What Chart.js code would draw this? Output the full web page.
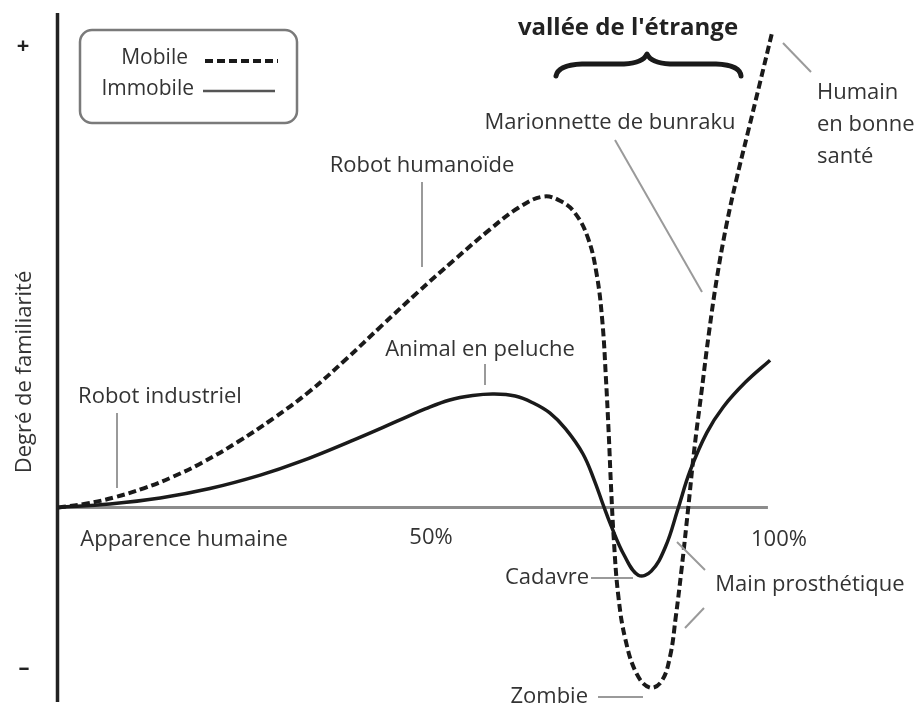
<!DOCTYPE html>
<html>
<head>
<meta charset="utf-8">
<script src="https://cdn.jsdelivr.net/npm/chart.js@4.4.1/dist/chart.umd.min.js"></script>
<style>
  html, body { margin: 0; padding: 0; background: #fff; }
</style>
</head>
<body>
<canvas id="chart" width="914" height="707"></canvas>
<script>
// apparence humaine (%) / degré de familiarité
const mobileX = [0, 4, 8, 12, 16, 20, 25, 30, 35, 40, 45, 50, 55, 60, 64, 67.4, 69.8, 71.8, 73.6, 74.8, 75.6, 76.1, 76.5, 76.8, 77.2, 77.8, 78.8, 80.4, 82.2, 83.8, 85.0, 85.8, 86.6, 87.5, 88.4, 89.4, 90.4, 91.5, 92.8, 94.2, 95.8, 97.5, 99.2];
const mobileY = [0, 0.8, 2.1, 3.9, 6.2, 9.0, 13.2, 18.0, 23.4, 29.8, 36.6, 43.3, 49.7, 55.9, 60.3, 62.5, 61.6, 59.2, 54.2, 47.0, 37.5, 26.0, 14.5, 4.5, -6.5, -17.5, -26.5, -33.5, -36.2, -35.0, -30.0, -22.0, -12.5, -0.5, 12.0, 23.5, 35.0, 46.0, 56.5, 65.8, 75.3, 85.4, 95.6];

const immobileX = [0, 7.2, 14.2, 21.1, 28.1, 33.6, 40.6, 47.5, 51.0, 54.4, 57.6, 60.5, 63.5, 66.0, 68.3, 70.5, 72.9, 74.5, 75.7, 76.8, 78.6, 80.6, 82.4, 84.4, 86.1, 87.8, 90.1, 92.4, 95.5, 98.9];
const immobileY = [0, 0.7, 1.9, 3.8, 6.5, 9.2, 13.3, 17.6, 19.8, 21.6, 22.5, 22.8, 22.4, 21.0, 19.0, 15.8, 10.8, 5.4, 0.6, -3.6, -9.5, -13.6, -12.8, -7.8, -0.3, 7.4, 15.0, 20.2, 25.2, 29.6];

const seriesNames = ["Mobile", "Immobile"];
const xTickLabels = ["Apparence humaine", "50%", "100%"];

const toPoints = (xs, ys) => xs.map((x, i) => ({ x: x, y: ys[i] }));

const FONT = '"Open Sans", "DejaVu Sans", sans-serif';
const TEXT = "#333";
const LEADER = "#9a9a9a";

function label(ctx, str, x, y, align) {
    ctx.textAlign = align || "center";
    ctx.fillText(str, x, y);
}

function leader(ctx, x1, y1, x2, y2) {
    ctx.beginPath();
    ctx.moveTo(x1, y1);
    ctx.lineTo(x2, y2);
    ctx.stroke();
}

const decor = {
    id: "decor",
    beforeDatasetsDraw(chart) {
        const ctx = chart.ctx;
        const xs = chart.scales.x, ys = chart.scales.y;
        const y0 = ys.getPixelForValue(0);
        ctx.save();
        // axe horizontal
        ctx.strokeStyle = "#8c8c8c";
        ctx.lineWidth = 3;
        leader(ctx, xs.getPixelForValue(0), y0, xs.getPixelForValue(98.6), y0);
        // axe vertical
        ctx.strokeStyle = "#222";
        ctx.lineWidth = 3.5;
        leader(ctx, xs.getPixelForValue(0) - 0.5, 13, xs.getPixelForValue(0) - 0.5, 702);
        ctx.restore();
    },
    afterDatasetsDraw(chart) {
        const ctx = chart.ctx;
        ctx.save();
        ctx.fillStyle = TEXT;
        ctx.textBaseline = "middle";
        ctx.font = "22px " + FONT;

        // étiquettes de l'axe x
        label(ctx, xTickLabels[0], 184, 540);
        label(ctx, xTickLabels[1], 431, 538);
        label(ctx, xTickLabels[2], 779, 540);

        // annotations
        label(ctx, "Robot industriel", 160, 397);
        label(ctx, "Robot humanoïde", 422, 166);
        label(ctx, "Animal en peluche", 480, 350);
        label(ctx, "Marionnette de bunraku", 610, 123);
        label(ctx, "Humain", 817, 93, "left");
        label(ctx, "en bonne", 817, 125, "left");
        label(ctx, "santé", 817, 157, "left");
        label(ctx, "Cadavre", 589, 578, "right");
        label(ctx, "Main prosthétique", 810, 585);
        label(ctx, "Zombie", 588, 697, "right");

        ctx.strokeStyle = LEADER;
        ctx.lineWidth = 2;
        leader(ctx, 117, 413, 117, 488);
        leader(ctx, 422, 182, 422, 267);
        leader(ctx, 485, 364, 485, 385);
        leader(ctx, 615, 140, 702, 292);
        leader(ctx, 783, 43, 811, 72);
        leader(ctx, 591, 578, 633, 578);
        leader(ctx, 677, 542, 705, 570);
        leader(ctx, 685, 628, 704, 608);
        leader(ctx, 598, 697, 643, 697);

        // titre de l'axe y
        ctx.save();
        ctx.translate(25, 372);
        ctx.rotate(-Math.PI / 2);
        label(ctx, "Degré de familiarité", 0, 0);
        ctx.restore();

        // + / -
        ctx.fillStyle = "#222";
        ctx.font = "bold 22px " + FONT;
        label(ctx, "+", 23, 47);
        label(ctx, "–", 24, 669);

        // vallée de l'étrange
        ctx.font = "bold 24px " + FONT;
        label(ctx, "vallée de l'étrange", 628, 28);
        ctx.strokeStyle = "#1a1a1a";
        ctx.lineWidth = 5;
        ctx.lineCap = "round";
        ctx.lineJoin = "round";
        ctx.beginPath();
        ctx.moveTo(556, 76);
        ctx.quadraticCurveTo(558, 65, 582, 64);
        ctx.lineTo(624, 64);
        ctx.quadraticCurveTo(643, 63, 647, 54);
        ctx.quadraticCurveTo(651, 63, 670, 64);
        ctx.lineTo(716, 64);
        ctx.quadraticCurveTo(740, 65, 741, 76);
        ctx.stroke();

        // légende
        ctx.lineCap = "butt";
        ctx.strokeStyle = "#7a7a7a";
        ctx.lineWidth = 2.5;
        ctx.beginPath();
        ctx.roundRect(80, 30, 217, 93, 12);
        ctx.stroke();
        ctx.fillStyle = TEXT;
        ctx.font = "21px " + FONT;
        label(ctx, seriesNames[0], 188, 58, "right");
        label(ctx, seriesNames[1], 194, 89, "right");
        const ds = chart.data.datasets;
        ctx.strokeStyle = ds[0].borderColor;
        ctx.lineWidth = 4;
        ctx.setLineDash(ds[0].borderDash);
        leader(ctx, 205, 61, 278, 61);
        ctx.setLineDash([]);
        ctx.strokeStyle = "#555";
        ctx.lineWidth = 2.5;
        leader(ctx, 203, 91, 275, 91);
        ctx.restore();
    }
};

new Chart(document.getElementById("chart"), {
    type: "line",
    data: {
        datasets: [
            {
                label: seriesNames[0],
                data: toPoints(mobileX, mobileY),
                borderColor: "#1a1a1a",
                borderWidth: 4,
                borderDash: [8, 4],
                pointRadius: 0,
                tension: 0.4,
                fill: false
            },
            {
                label: seriesNames[1],
                data: toPoints(immobileX, immobileY),
                borderColor: "#1a1a1a",
                borderWidth: 3.5,
                pointRadius: 0,
                tension: 0.4,
                fill: false
            }
        ]
    },
    options: {
        responsive: false,
        animation: false,
        layout: { padding: { left: 58, right: 136, top: 10, bottom: 7 } },
        scales: {
            x: { type: "linear", min: 0, max: 100, display: false },
            y: { type: "linear", min: -38.7, max: 100, display: false }
        },
        plugins: {
            legend: { display: false },
            tooltip: { enabled: false }
        }
    },
    plugins: [decor]
});
</script>
</body>
</html>
